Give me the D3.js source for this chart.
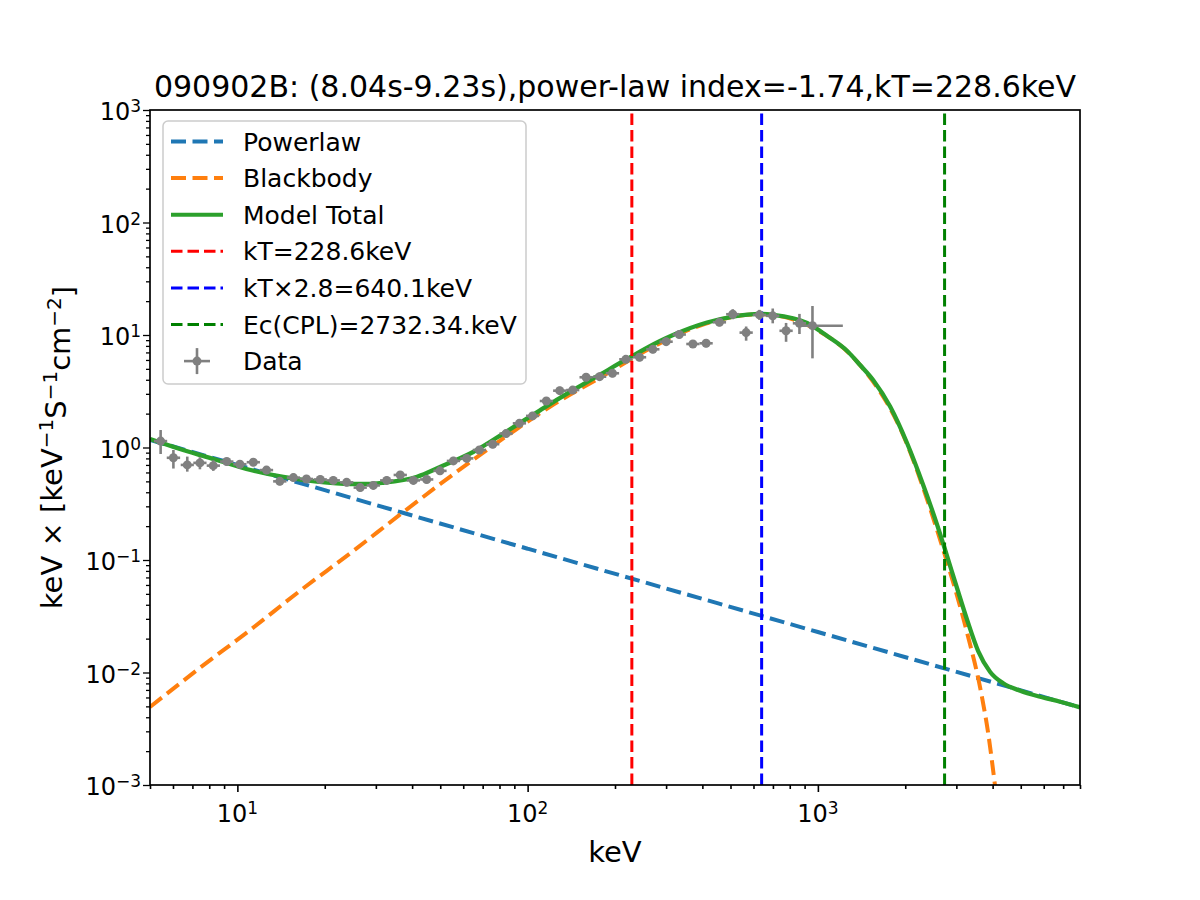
<!DOCTYPE html>
<html>
<head>
<meta charset="utf-8">
<script src="https://cdn.jsdelivr.net/npm/d3@7"></script>
<style>
body { margin: 0; background: #fff; }
text { font-family: "DejaVu Sans", sans-serif; fill: #000; }
</style>
</head>
<body>
<svg id="chart"></svg>
<script>
// ---- data ----
var energy = [5.44, 6.02, 6.72, 7.43, 8.26, 9.19, 10.2, 11.35, 12.6, 14.0,
    15.6, 17.3, 19.3, 21.4, 23.8, 26.5, 29.4, 32.7, 36.4, 40.4,
    44.9, 49.9, 55.5, 61.7, 68.2, 75.8, 84.3, 93.7, 104, 116,
    129, 143, 159, 177, 196, 218, 243, 270, 300, 333,
    371, 412, 458, 509, 566, 629, 699, 777, 864, 958];
var energyLo = [5.16, 5.71, 6.38, 7.05, 7.84, 8.72, 9.68, 10.77, 11.95, 13.28,
    14.8, 16.41, 18.31, 20.3, 22.58, 25.14, 27.89, 31.02, 34.54, 38.33,
    42.6, 47.34, 52.66, 58.54, 64.71, 71.92, 79.98, 88.9, 98.7, 110.1,
    122.4, 135.7, 150.9, 167.9, 186, 206.8, 230.6, 256.2, 284.6, 315.9,
    352, 390.9, 434.5, 482.9, 537, 596.8, 663.2, 737.2, 819.7, 880];
var energyHi = [5.73, 6.35, 7.08, 7.83, 8.71, 9.69, 10.75, 11.96, 13.28, 14.76,
    16.44, 18.23, 20.34, 22.56, 25.09, 27.93, 30.99, 34.47, 38.37, 42.58,
    47.32, 52.59, 58.5, 65.03, 71.88, 79.89, 88.85, 98.76, 109.6, 122.3,
    136, 150.7, 167.6, 186.6, 206.6, 229.8, 256.1, 284.6, 316.2, 351,
    391, 434.2, 482.7, 536.5, 596.6, 663, 736.7, 819, 910.7, 1219];
var flux = [1.14, 0.81, 0.70, 0.73, 0.69, 0.75, 0.71, 0.74, 0.63, 0.50,
    0.54, 0.525, 0.52, 0.51, 0.49, 0.44, 0.46, 0.51, 0.57, 0.51,
    0.52, 0.62, 0.76, 0.80, 0.95, 1.07, 1.33, 1.64, 1.91, 2.59,
    3.20, 3.24, 4.21, 4.26, 4.57, 6.08, 6.34, 7.46, 8.72, 10.1,
    8.32, 8.44, 12.97, 15.3, 10.5, 15.1, 14.8, 10.9, 12.7, 12.1];
var fluxLo = [0.875, 0.65, 0.61, 0.64, 0.62, 0.69, 0.654, 0.682, 0.58, 0.461,
    0.498, 0.484, 0.479, 0.47, 0.452, 0.406, 0.424, 0.47, 0.525, 0.47,
    0.479, 0.571, 0.70, 0.737, 0.876, 0.986, 1.226, 1.511, 1.76, 2.387,
    2.949, 2.986, 3.88, 3.926, 4.212, 5.604, 5.843, 6.876, 8.037, 9.309,
    7.668, 7.779, 11.95, 13.81, 8.9, 13.63, 12.7, 8.7, 10.2, 6.2];
var fluxHi = [1.43, 0.95, 0.83, 0.82, 0.77, 0.81, 0.77, 0.803, 0.684, 0.543,
    0.586, 0.57, 0.564, 0.553, 0.532, 0.477, 0.499, 0.553, 0.618, 0.553,
    0.564, 0.673, 0.825, 0.868, 1.031, 1.161, 1.443, 1.779, 2.072, 2.81,
    3.472, 3.515, 4.568, 4.622, 4.958, 6.597, 6.879, 8.094, 9.461, 10.96,
    9.027, 9.157, 14.07, 16.95, 11.9, 16.73, 17.2, 12.8, 15.4, 18.1];

var plEnergy = [5, 10, 36.4, 100, 1000, 8000];
var plFlux = [1.17, 0.70, 0.267, 0.126, 0.0229, 0.0049];

var bbEnergy = [5, 7.43, 11.1, 16.4, 24.5, 36.4, 49.9, 66.9, 77.3, 89.1,
    103, 119, 178, 264, 393, 632, 1018, 1398, 1921, 2638,
    3268, 3624, 3860, 4082];
var bbFlux = [0.00494, 0.011, 0.024, 0.053, 0.115, 0.254, 0.472, 0.823, 1.072, 1.384,
    1.79, 2.29, 4.19, 7.59, 12.15, 15.3, 10.7, 5.4, 1.48, 0.151,
    0.0224, 0.0073, 0.0029, 0.00096];

var totEnergy = [5, 6.5, 8.5, 11.1, 14.4, 18.8, 24.5, 28.0, 31.8, 41.6,
    49.9, 64.9, 85.0, 110, 129, 178, 220, 286, 317, 415,
    510, 632, 701, 918, 1077, 1262, 1398, 1550, 1774, 2030,
    2306, 2576, 2745, 3019, 3268, 3567, 3923, 4349, 4976, 5830,
    6834, 8000];
var totFlux = [1.19, 0.95, 0.774, 0.631, 0.547, 0.497, 0.474, 0.474, 0.486, 0.550,
    0.671, 0.912, 1.40, 2.13, 2.75, 4.46, 6.12, 8.85, 10.0, 12.9,
    14.6, 15.4, 15.1, 12.8, 9.80, 7.21, 5.41, 3.98, 2.31, 1.09,
    0.464, 0.205, 0.123, 0.0558, 0.0293, 0.0155, 0.0101, 0.00802, 0.00689, 0.00609,
    0.0055, 0.0049];

var markerEnergies = [228.6, 640.1, 2732.34];

var legendLabels = ["Powerlaw", "Blackbody", "Model Total", "kT=228.6keV",
    "kT\u00d72.8=640.1keV", "Ec(CPL)=2732.34.keV", "Data"];

var xMajor = [10, 100, 1000];
var yMajor = [1e-3, 1e-2, 1e-1, 1, 10, 100, 1000];

var titleText = "090902B: (8.04s-9.23s),power-law index=-1.74,kT=228.6keV";

// ---- layout ----
var svgWidth = 1200;
var svgHeight = 900;
var plotLeft = 150, plotRight = 1080, plotTop = 110, plotBottom = 785;

var svg = d3.select("#chart")
    .attr("width", svgWidth)
    .attr("height", svgHeight);

svg.append("rect")
    .attr("width", svgWidth)
    .attr("height", svgHeight)
    .attr("fill", "#fff");

var x = d3.scaleLog().domain([5, 8000]).range([plotLeft, plotRight]);
var y = d3.scaleLog().domain([1e-3, 1e3]).range([plotBottom, plotTop]);

svg.append("clipPath").attr("id", "plotClip")
    .append("rect")
    .attr("x", plotLeft).attr("y", plotTop)
    .attr("width", plotRight - plotLeft).attr("height", plotBottom - plotTop);

var plot = svg.append("g").attr("clip-path", "url(#plotClip)");

// minor ticks for log axes
function minors(lo, hi) {
    var out = [];
    for (var e = Math.floor(Math.log10(lo)); e <= Math.ceil(Math.log10(hi)); e++) {
        for (var m = 2; m <= 9; m++) {
            var v = m * Math.pow(10, e);
            if (v >= lo * 0.999 && v <= hi * 1.001) out.push(v);
        }
    }
    return out;
}

function supLabel(sel, base, exp, supSize) {
    sel.append("tspan").text(base);
    sel.append("tspan").attr("dy", "-0.45em").attr("font-size", supSize).text(exp);
}

function expText(v) {
    var e = Math.round(Math.log10(v));
    return e < 0 ? "\u2212" + (-e) : String(e);
}

// ---- lines ----
var line = d3.line()
    .x(function (d) { return x(d[0]); })
    .y(function (d) { return y(d[1]); })
    .curve(d3.curveMonotoneX);

var plPts = plEnergy.map(function (e, i) { return [e, plFlux[i]]; });
var bbPts = bbEnergy.map(function (e, i) { return [e, bbFlux[i]]; });
var totPts = totEnergy.map(function (e, i) { return [e, totFlux[i]]; });

plot.append("path")
    .attr("d", line(plPts))
    .attr("fill", "none")
    .attr("stroke", "#1f77b4")
    .attr("stroke-width", 4)
    .attr("stroke-dasharray", "15,6.5");

plot.append("path")
    .attr("d", line(bbPts))
    .attr("fill", "none")
    .attr("stroke", "#ff7f0e")
    .attr("stroke-width", 4)
    .attr("stroke-dasharray", "15,6.5");

plot.append("path")
    .attr("d", line(totPts))
    .attr("fill", "none")
    .attr("stroke", "#2ca02c")
    .attr("stroke-width", 4.3);

var vColors = ["red", "blue", "green"];
plot.selectAll(".vline")
    .data(markerEnergies)
    .enter().append("line")
    .attr("class", "vline")
    .attr("x1", function (d) { return x(d); })
    .attr("x2", function (d) { return x(d); })
    .attr("y1", plotBottom)
    .attr("y2", plotTop)
    .attr("stroke", function (d, i) { return vColors[i]; })
    .attr("stroke-width", 3)
    .attr("stroke-dasharray", "11.5,5");

// ---- data with error bars ----
var pts = plot.selectAll(".pt")
    .data(energy.map(function (e, i) { return i; }))
    .enter().append("g").attr("class", "pt");

pts.append("line")
    .attr("x1", function (i) { return x(energyLo[i]); })
    .attr("x2", function (i) { return x(energyHi[i]); })
    .attr("y1", function (i) { return y(flux[i]); })
    .attr("y2", function (i) { return y(flux[i]); })
    .attr("stroke", "gray").attr("stroke-width", 2.6);

pts.append("line")
    .attr("x1", function (i) { return x(energy[i]); })
    .attr("x2", function (i) { return x(energy[i]); })
    .attr("y1", function (i) { return y(fluxLo[i]); })
    .attr("y2", function (i) { return y(fluxHi[i]); })
    .attr("stroke", "gray").attr("stroke-width", 2.6);

pts.append("circle")
    .attr("cx", function (i) { return x(energy[i]); })
    .attr("cy", function (i) { return y(flux[i]); })
    .attr("r", 4.5)
    .attr("fill", "gray");

// ---- axes ----
var xAxis = svg.append("g").attr("transform", "translate(0," + plotBottom + ")");
xAxis.call(d3.axisBottom(x).tickValues(xMajor).tickFormat("").tickSize(7).tickSizeOuter(0));
xAxis.append("g").call(d3.axisBottom(x).tickValues(minors(5, 8000)).tickFormat("").tickSize(4).tickSizeOuter(0));
xAxis.selectAll("path.domain").remove();
xAxis.selectAll(".tick line").attr("stroke", "#000").attr("stroke-width", 1.6);

var yAxis = svg.append("g").attr("transform", "translate(" + plotLeft + ",0)");
yAxis.call(d3.axisLeft(y).tickValues(yMajor).tickFormat("").tickSize(7).tickSizeOuter(0));
yAxis.append("g").call(d3.axisLeft(y).tickValues(minors(1e-3, 1e3)).tickFormat("").tickSize(4).tickSizeOuter(0));
yAxis.selectAll("path.domain").remove();
yAxis.selectAll(".tick line").attr("stroke", "#000").attr("stroke-width", 1.3);

svg.selectAll(".xlab")
    .data(xMajor)
    .enter().append("text")
    .attr("class", "xlab")
    .attr("x", function (d) { return x(d); })
    .attr("y", 822)
    .attr("text-anchor", "middle")
    .attr("font-size", 24)
    .each(function (d) { supLabel(d3.select(this), "10", expText(d), 17); });

svg.selectAll(".ylab")
    .data(yMajor)
    .enter().append("text")
    .attr("class", "ylab")
    .attr("x", 141)
    .attr("y", function (d) { return y(d) + 10; })
    .attr("text-anchor", "end")
    .attr("font-size", 24)
    .each(function (d) { supLabel(d3.select(this), "10", expText(d), 17); });

// frame
svg.append("rect")
    .attr("x", plotLeft).attr("y", plotTop)
    .attr("width", plotRight - plotLeft).attr("height", plotBottom - plotTop)
    .attr("fill", "none").attr("stroke", "#000").attr("stroke-width", 1.7);

// ---- titles ----
svg.append("text")
    .attr("x", (plotLeft + plotRight) / 2)
    .attr("y", 97)
    .attr("text-anchor", "middle")
    .attr("font-size", 30)
    .text(titleText);

svg.append("text")
    .attr("x", (plotLeft + plotRight) / 2)
    .attr("y", 862)
    .attr("text-anchor", "middle")
    .attr("font-size", 29)
    .text("keV");

var yTitle = svg.append("text")
    .attr("transform", "translate(62," + ((plotTop + plotBottom) / 2) + ") rotate(-90)")
    .attr("text-anchor", "middle")
    .attr("font-size", 29);
yTitle.append("tspan").text("keV \u00d7 [keV");
yTitle.append("tspan").attr("dy", "-0.45em").attr("font-size", 20).text("\u22121");
yTitle.append("tspan").attr("dy", "0.45em").text("S");
yTitle.append("tspan").attr("dy", "-0.45em").attr("font-size", 20).text("\u22121");
yTitle.append("tspan").attr("dy", "0.45em").text("cm");
yTitle.append("tspan").attr("dy", "-0.45em").attr("font-size", 20).text("\u22122");
yTitle.append("tspan").attr("dy", "0.45em").text("]");

// ---- legend ----
var legend = svg.append("g");
legend.append("rect")
    .attr("x", 163).attr("y", 121)
    .attr("width", 363).attr("height", 263)
    .attr("rx", 5)
    .attr("fill", "#fff").attr("fill-opacity", 0.8)
    .attr("stroke", "#cccccc").attr("stroke-width", 1.5);

var legColors = ["#1f77b4", "#ff7f0e", "#2ca02c", "red", "blue", "green", "gray"];
var rowY = function (i) { return 141.5 + i * 36.6; };

legendLabels.forEach(function (lab, i) {
    var yy = rowY(i);
    if (i < 6) {
        legend.append("line")
            .attr("x1", 171).attr("x2", 223)
            .attr("y1", yy).attr("y2", yy)
            .attr("stroke", legColors[i])
            .attr("stroke-width", i < 3 ? 4 : 3)
            .attr("stroke-dasharray", i === 2 ? null : (i < 3 ? "15,6.5" : "11.5,5"));
    } else {
        legend.append("line").attr("x1", 184).attr("x2", 210).attr("y1", yy).attr("y2", yy)
            .attr("stroke", "gray").attr("stroke-width", 2.6);
        legend.append("line").attr("x1", 197).attr("x2", 197).attr("y1", yy - 13).attr("y2", yy + 13)
            .attr("stroke", "gray").attr("stroke-width", 2.6);
        legend.append("circle").attr("cx", 197).attr("cy", yy).attr("r", 4.5).attr("fill", "gray");
    }
    legend.append("text")
        .attr("x", 243)
        .attr("y", yy + 9)
        .attr("font-size", 25)
        .text(lab);
});
</script>
</body>
</html>
